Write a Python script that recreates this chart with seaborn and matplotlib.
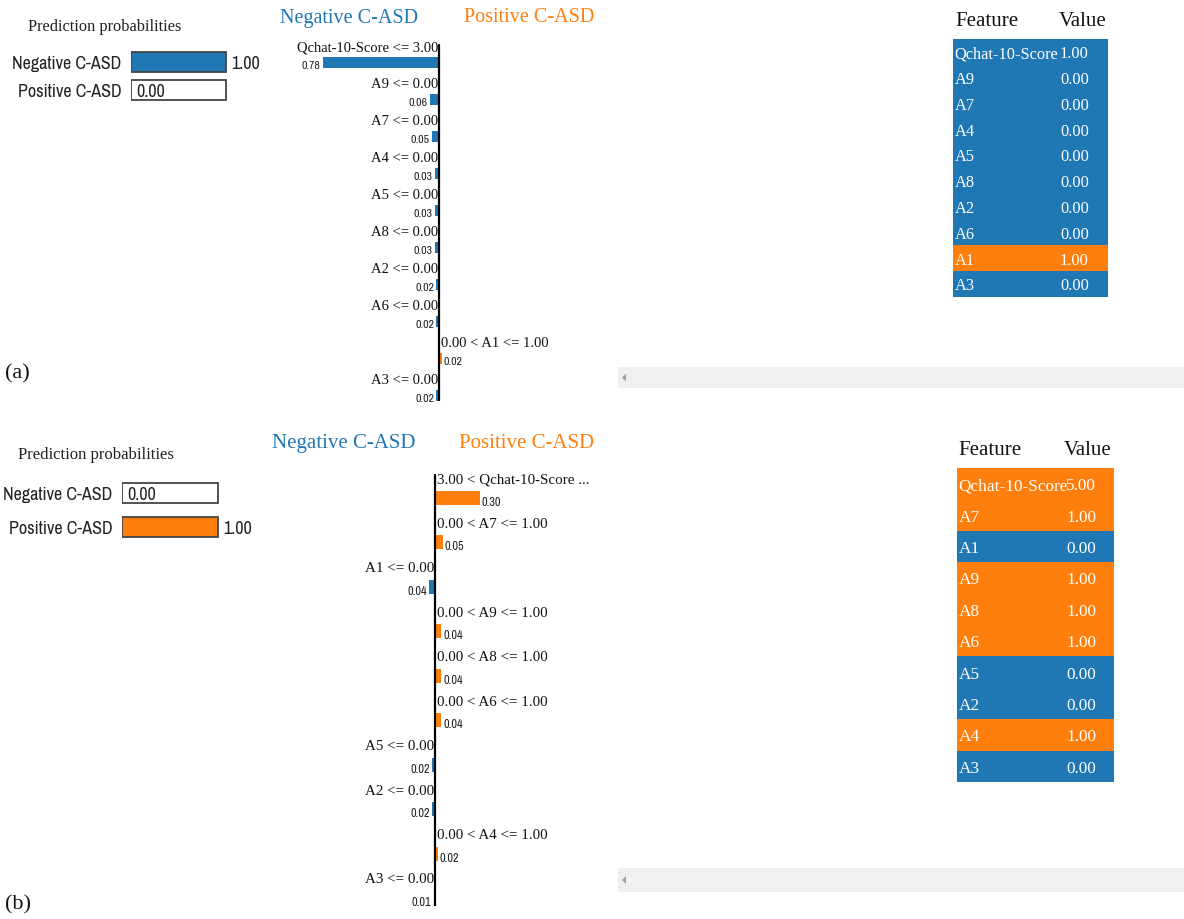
import numpy as np
import pandas as pd
import matplotlib
matplotlib.use("Agg")
import matplotlib.pyplot as plt
import seaborn as sns
from matplotlib.colors import ListedColormap
from matplotlib.patches import Rectangle, Polygon

# ---- data ------------------------------------------------------------------
class_names = ["Negative C-ASD", "Positive C-ASD"]

a_probs = [1.00, 0.00]
a_rules = ["Qchat-10-Score <= 3.00", "A9 <= 0.00", "A7 <= 0.00", "A4 <= 0.00",
           "A5 <= 0.00", "A8 <= 0.00", "A2 <= 0.00", "A6 <= 0.00",
           "0.00 < A1 <= 1.00", "A3 <= 0.00"]
a_weights = [-0.78, -0.06, -0.05, -0.03, -0.03, -0.03, -0.02, -0.02, 0.02, -0.02]
a_features = ["Qchat-10-Score", "A9", "A7", "A4", "A5", "A8", "A2", "A6", "A1", "A3"]
a_values = [1.00, 0.00, 0.00, 0.00, 0.00, 0.00, 0.00, 0.00, 1.00, 0.00]

b_probs = [0.00, 1.00]
b_rules = ["3.00 < Qchat-10-Score ...", "0.00 < A7 <= 1.00", "A1 <= 0.00",
           "0.00 < A9 <= 1.00", "0.00 < A8 <= 1.00", "0.00 < A6 <= 1.00",
           "A5 <= 0.00", "A2 <= 0.00", "0.00 < A4 <= 1.00", "A3 <= 0.00"]
b_weights = [0.30, 0.05, -0.04, 0.04, 0.04, 0.04, -0.02, -0.02, 0.02, -0.01]
b_features = ["Qchat-10-Score", "A7", "A1", "A9", "A8", "A6", "A5", "A2", "A4", "A3"]
b_values = [5.00, 1.00, 0.00, 1.00, 1.00, 1.00, 0.00, 0.00, 1.00, 0.00]

BLUE = "#1f77b4"
ORANGE = "#ff7f0e"
SERIF = ["Liberation Serif", "DejaVu Serif"]
NARROW = ["Archivo Narrow", "Liberation Sans Narrow", "Liberation Sans", "DejaVu Sans"]

sns.set_style("white")
plt.rcParams["font.family"] = SERIF

W, H = 1184, 920
fig = plt.figure(figsize=(W / 100, H / 100), dpi=100)

# full-figure canvas in pixel units for free-standing text and decorations
canvas = fig.add_axes([0, 0, 1, 1])
canvas.set_xlim(0, W)
canvas.set_ylim(H, 0)
canvas.axis("off")


def px_axes(x0, y0, x1, y1):
    return fig.add_axes([x0 / W, 1 - y1 / H, (x1 - x0) / W, (y1 - y0) / H])


def prob_panel(box, row_y, bar_h, probs, label_fs):
    x0, x1 = box
    spacing = row_y[1] - row_y[0]
    ax = px_axes(x0, row_y[0] - spacing / 2, x0 + 200, row_y[1] + spacing / 2)
    df = pd.DataFrame({"cls": class_names, "p": probs})
    sns.barplot(data=df, x="p", y="cls", hue="cls",
                palette=[BLUE, ORANGE], saturation=1, width=bar_h / spacing,
                linewidth=0, legend=False, ax=ax)
    sns.barplot(x=[1.0, 1.0], y=class_names, color="#444444", fill=False,
                width=bar_h / spacing, linewidth=1.3, ax=ax)
    unit = (x1 - x0)
    ax.set_xlim(0, 200 / unit)
    ax.set_ylim(1.5, -0.5)
    for i, p in enumerate(probs):
        ax.text(p + 5 / unit, i + 0.03, f"{p:.2f}", ha="left", va="center",
                fontsize=label_fs, family=NARROW, color="#222222")
    ax.set_xlabel("")
    ax.set_ylabel("")
    ax.set_xticks([])
    ax.tick_params(axis="y", length=0, pad=7)
    for lab in ax.get_yticklabels():
        lab.set_fontfamily(NARROW)
        lab.set_fontsize(label_fs)
        lab.set_color("#222222")
    sns.despine(ax=ax, left=True, bottom=True)
    ax.patch.set_alpha(0)


def explanation_panel(rect, zero_x, ppu, first_bar_y, spacing, bar_h, label_off,
                      rules, weights, rule_fs, val_fs):
    x0, y0, x1, y1 = rect
    n = len(rules)
    ax = px_axes(x0, y0, x1, y1)
    w = np.array(weights)
    df = pd.DataFrame({"rule": rules, "weight": w,
                       "side": np.where(w < 0, "neg", "pos")})
    sns.barplot(data=df, x="weight", y="rule", hue="side",
                palette={"neg": BLUE, "pos": ORANGE}, saturation=1,
                dodge=False, width=bar_h / spacing, linewidth=0,
                legend=False, ax=ax)
    ax.set_xlim(-(zero_x - x0) / ppu, (x1 - zero_x) / ppu)
    ax.set_ylim(n - 1 + (y1 - (first_bar_y + (n - 1) * spacing)) / spacing,
                -(first_bar_y - y0) / spacing)
    ax.axvline(0, color="black", lw=1.6, ymax=1 - 6 / (y1 - y0))
    lo = label_off / spacing
    gap = 2 / ppu
    for i, (r, v) in enumerate(zip(rules, w)):
        if v < 0:
            ax.text(-gap * 0.5, i - lo, r, ha="right", va="center",
                    fontsize=rule_fs, color="#111111")
            ax.text(v - gap, i + 0.08, f"{abs(v):.2f}", ha="right", va="center",
                    fontsize=val_fs, family=NARROW, color="#222222")
        else:
            ax.text(gap, i - lo, r, ha="left", va="center",
                    fontsize=rule_fs, color="#111111")
            ax.text(v + gap, i + 0.08, f"{abs(v):.2f}", ha="left", va="center",
                    fontsize=val_fs, family=NARROW, color="#222222")
    ax.axis("off")


def feature_table(rect, features, values, weights, text_fs, value_px):
    x0, y0, x1, y1 = rect
    ax = px_axes(x0, y0, x1, y1)
    side = (np.array(weights) > 0).astype(int)
    mat = np.column_stack([side, side])
    sns.heatmap(mat, cmap=ListedColormap([BLUE, ORANGE]), vmin=0, vmax=1,
                cbar=False, xticklabels=False, yticklabels=False,
                linewidths=0, ax=ax)
    vx = (value_px - x0) / (x1 - x0) * 2
    for i, (f, v) in enumerate(zip(features, values)):
        ax.text(0.02, i + 0.55, f, ha="left", va="center",
                fontsize=text_fs, color="white")
        ax.text(vx, i + 0.55, f"{v:.2f}", ha="left", va="center",
                fontsize=text_fs, color="white")
    ax.axis("off")


def scrollbar(x0, y0, x1, y1):
    canvas.add_patch(Rectangle((x0, y0), x1 - x0, y1 - y0,
                               facecolor="#f0f0f0", edgecolor="none"))
    cy = (y0 + y1) / 2
    canvas.add_patch(Polygon([(626, cy - 4), (626, cy + 4), (622, cy)],
                             closed=True, facecolor="#a0a0a0", edgecolor="none"))


# ---- panel (a) -------------------------------------------------------------
canvas.text(28, 27, "Prediction probabilities", fontsize=11.8,
            va="center", ha="left", color="#222222")
prob_panel((131, 226), (63, 91), 20, a_probs, 13)
canvas.text(349, 18, "Negative C-ASD", fontsize=14.5, color=BLUE,
            ha="center", va="center")
canvas.text(529, 18, "Positive C-ASD", fontsize=14.5, color=ORANGE,
            ha="center", va="center")
explanation_panel((280, 40, 610, 402), 439, 149, 63.5, 37, 11, 16,
                  a_rules, a_weights, 10.5, 8.5)
canvas.text(955, 22, "Feature", fontsize=15, ha="left", va="center",
            color="#111111")
canvas.text(1107, 22, "Value", fontsize=15, ha="right", va="center",
            color="#111111")
feature_table((953, 40, 1108, 298), a_features, a_values, a_weights, 11.8, 1060)
scrollbar(618, 368, 1184, 389)
canvas.text(5, 374, "(a)", fontsize=16, ha="left", va="center",
            color="#111111")

# ---- panel (b) -------------------------------------------------------------
canvas.text(18, 455, "Prediction probabilities", fontsize=12,
            va="center", ha="left", color="#222222")
prob_panel((122, 218), (494, 528), 20, b_probs, 13)
canvas.text(344, 444, "Negative C-ASD", fontsize=15, color=BLUE,
            ha="center", va="center")
canvas.text(527, 444, "Positive C-ASD", fontsize=15, color=ORANGE,
            ha="center", va="center")
explanation_panel((260, 470, 610, 907), 435, 150, 499, 44.44, 14, 19,
                  b_rules, b_weights, 10.8, 8.8)
canvas.text(958, 451, "Feature", fontsize=15, ha="left", va="center",
            color="#111111")
canvas.text(1112, 451, "Value", fontsize=15, ha="right", va="center",
            color="#111111")
feature_table((957, 469, 1114, 783), b_features, b_values, b_weights, 12.4, 1066)
scrollbar(618, 869, 1184, 893)
canvas.text(5, 905, "(b)", fontsize=16, ha="left", va="center",
            color="#111111")

fig.savefig("out.png", dpi=100, facecolor="white")
